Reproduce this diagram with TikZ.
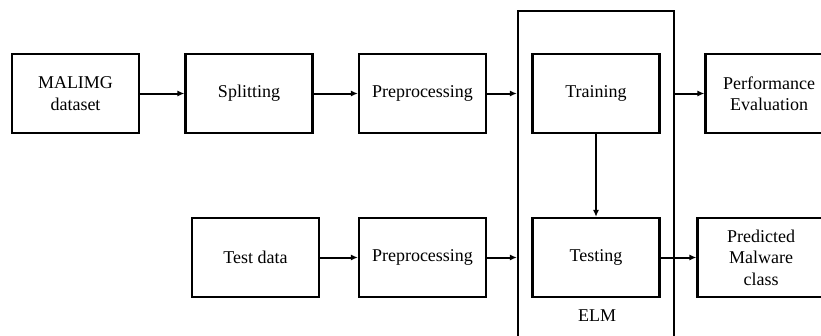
\documentclass[tikz,border=0pt]{standalone}
\usepackage{fontspec}
\setmainfont{Liberation Serif}
\usetikzlibrary{arrows.meta}
\begin{document}
\begin{tikzpicture}[x=1pt,y=-1pt,
  blk/.style={draw,line width=2.2pt,minimum width=127pt,minimum height=79pt,inner sep=0pt,align=center,font=\fontsize{18}{21.5}\selectfont},
  conn/.style={line width=2pt,-{Latex[length=7pt,width=6pt]}}]
\useasboundingbox (0,0) rectangle (821,335);
\clip (0,0) rectangle (821,335);
\node[blk] (mal) at (75.5,93.5) {MALIMG\\dataset};
\node[blk] (spl) at (249,93.5) {Splitting};
\node[blk] (pre1) at (422.5,93.5) {Preprocessing};
\node[draw,line width=2.2pt,minimum width=156pt,minimum height=344pt,inner sep=0pt] (elm) at (596,183) {};
\node[blk] (tr) at (596,93.5) {Training};
\node[blk] (perf) at (769,93.5) {Performance\\Evaluation};
\node[blk] (td) at (255.5,257.5) {Test data};
\node[blk] (pre2) at (422.5,257.5) {Preprocessing};
\node[blk] (te) at (596,257.5) {Testing};
\node[blk] (pred) at (761,257.5) {Predicted\\Malware\\class};
\node[font=\fontsize{18}{21.5}\selectfont] (elml) at (597,316) {ELM};
\draw[conn] (mal) -- (spl);
\draw[conn] (spl) -- (pre1);
\draw[conn] (pre1) -- (pre1 -| elm.west);
\draw[conn] (tr -| elm.east) -- (perf);
\draw[conn] (tr) -- (te);
\draw[conn] (td) -- (pre2);
\draw[conn] (pre2) -- (pre2 -| elm.west);
\draw[conn] (te) -- (pred);
\end{tikzpicture}
\end{document}
